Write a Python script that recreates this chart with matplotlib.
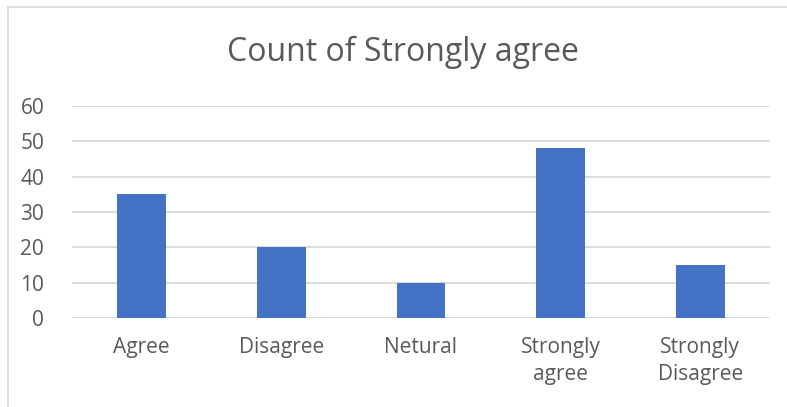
import matplotlib
matplotlib.use("Agg")
import matplotlib.pyplot as plt
from matplotlib.lines import Line2D

# data
categories = ["Agree", "Disagree", "Netural", "Strongly\nagree", "Strongly\nDisagree"]
counts = [35, 20, 10, 48, 15]
y_ticks = [0, 10, 20, 30, 40, 50, 60]

plt.rcParams['font.family'] = ['Open Sans', 'DejaVu Sans']

W, H = 787, 407
fig = plt.figure(figsize=(W / 100, H / 100), dpi=100)
ax = fig.add_axes([72 / W, 1 - 318 / H, (770 - 72) / W, (318 - 106) / H])

ax.bar(range(len(counts)), counts, width=0.35, color="#4472C4", zorder=3)
ax.set_xlim(-0.5, len(counts) - 0.5)
ax.set_ylim(0, 60)
ax.set_yticks(y_ticks)
ax.grid(axis="y", color="#d9d9d9", linewidth=1.3, zorder=0)
ax.set_xticks(range(len(categories)))
ax.set_xticklabels(categories, linespacing=1.35)
ax.tick_params(length=0, labelsize=15, labelcolor="#595959")
ax.tick_params(axis="y", pad=20)
ax.tick_params(axis="x", pad=14)
for s in ax.spines.values():
    s.set_visible(False)

fig.suptitle("Count of Strongly agree", x=403 / W, y=1 - 52 / H,
             va="center", fontsize=23, color="#595959")

# chart border (left and top edges visible)
fig.add_artist(Line2D([8 / W, 8 / W], [0, 1 - 7 / H], color="#d9d9d9", linewidth=1.2))
fig.add_artist(Line2D([8 / W, 1], [1 - 7 / H, 1 - 7 / H], color="#d9d9d9", linewidth=1.2))

fig.savefig("out.png", dpi=100)
